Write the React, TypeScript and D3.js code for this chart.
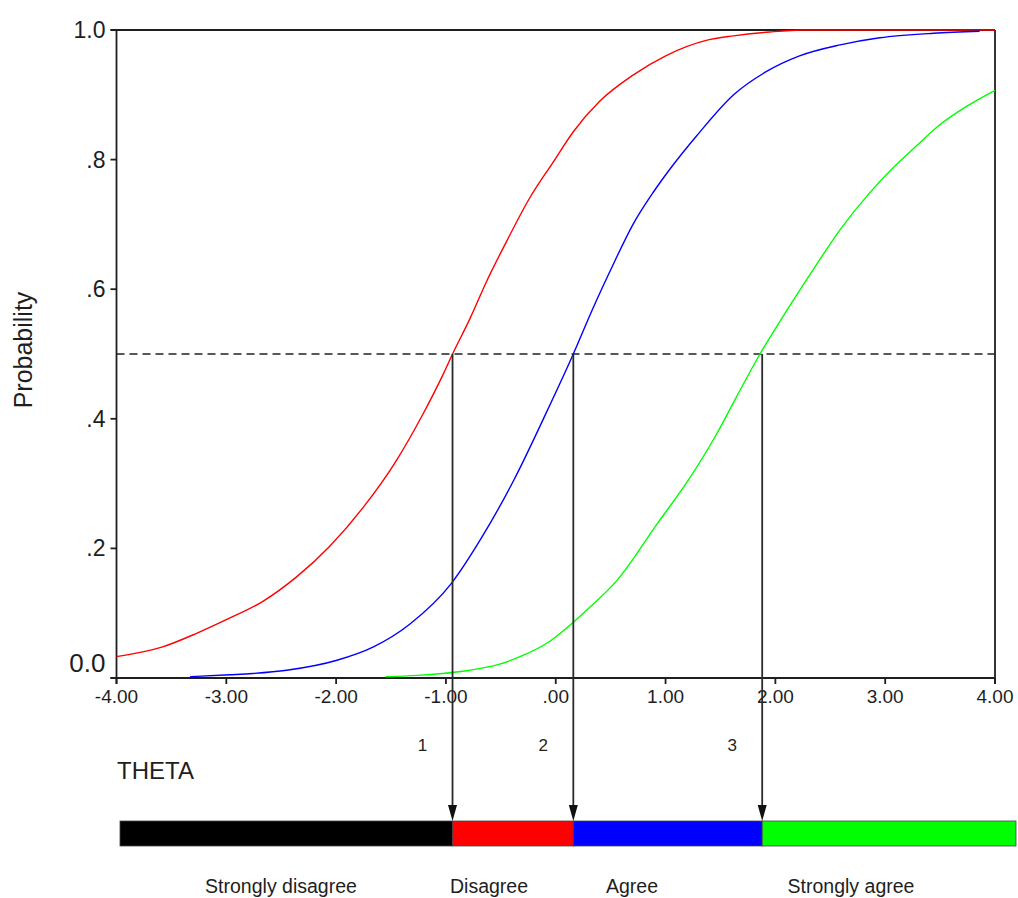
import React from 'react';
import * as d3 from 'd3';

// ---- data ----
const xTicks = [-4, -3, -2, -1, 0, 1, 2, 3, 4];
const xTickLabels = ['-4.00', '-3.00', '-2.00', '-1.00', '.00', '1.00', '2.00', '3.00', '4.00'];
const yTicks = [0, 0.2, 0.4, 0.6, 0.8, 1.0];
const yTickLabels = ['0.0', '.2', '.4', '.6', '.8', '1.0'];

const redTheta = [-4.0, -3.58, -3.27, -3.0, -2.67, -2.36, -2.06, -1.75, -1.45, -1.21, -1.03, -0.94, -0.78, -0.63, -0.45, -0.24, -0.02, 0.16, 0.4, 0.7, 1.01, 1.37, 1.62, 1.95, 2.25, 4.0];
const redProb = [0.033, 0.048, 0.069, 0.09, 0.118, 0.156, 0.203, 0.264, 0.336, 0.407, 0.467, 0.5, 0.555, 0.612, 0.673, 0.74, 0.797, 0.843, 0.89, 0.93, 0.961, 0.984, 0.991, 0.997, 1.0, 1.0];

const blueTheta = [-3.33, -2.97, -2.76, -2.45, -2.0, -1.66, -1.33, -0.95, -0.67, -0.38, -0.09, 0.16, 0.34, 0.52, 0.7, 0.89, 1.07, 1.28, 1.62, 1.92, 2.22, 2.59, 2.95, 3.44, 3.86];
const blueProb = [0.002, 0.005, 0.007, 0.012, 0.027, 0.048, 0.083, 0.146, 0.218, 0.306, 0.408, 0.5, 0.571, 0.637, 0.699, 0.75, 0.792, 0.836, 0.9, 0.936, 0.96, 0.977, 0.988, 0.995, 0.998];

const greenTheta = [-1.55, -1.26, -1.03, -0.78, -0.52, -0.31, -0.06, 0.16, 0.27, 0.56, 0.92, 1.21, 1.46, 1.64, 1.86, 2.1, 2.34, 2.59, 2.86, 3.07, 3.29, 3.47, 3.74, 4.0];
const greenProb = [0.002, 0.004, 0.007, 0.012, 0.021, 0.034, 0.056, 0.086, 0.103, 0.151, 0.237, 0.306, 0.375, 0.432, 0.5, 0.566, 0.629, 0.692, 0.749, 0.787, 0.822, 0.85, 0.882, 0.907];

const curveColors = ['#ff0000', '#0000ff', '#00ff00'];

const thresholds = [-0.94, 0.16, 1.88];
const thresholdLabels = ['1', '2', '3'];
const cutProb = 0.5;

const categories = ['Strongly disagree', 'Disagree', 'Agree', 'Strongly agree'];
const categoryColors = ['#000000', '#ff0000', '#0000ff', '#00ff00'];

// ---- layout ----
const W = 1018;
const H = 898;
const plotLeft = 116.5;
const plotRight = 995;
const plotTop = 30;
const plotBottom = 678;
const barLeft = 120;
const barRight = 1016;
const barTop = 821;
const barBottom = 846;
const categoryLabelX = [281, 489, 632, 851];
const axisColor = '#1e1e1e';
const textColor = '#1e1e1e';

export default function App() {
  const x = d3.scaleLinear().domain([-4, 4]).range([plotLeft, plotRight]);
  const y = d3.scaleLinear().domain([0, 1]).range([plotBottom, plotTop]);

  const line = d3
    .line<[number, number]>()
    .x((d) => x(d[0]))
    .y((d) => y(d[1]))
    .curve(d3.curveMonotoneX);

  const series: [number, number][][] = [
    redTheta.map((t, i) => [t, redProb[i]] as [number, number]),
    blueTheta.map((t, i) => [t, blueProb[i]] as [number, number]),
    greenTheta.map((t, i) => [t, greenProb[i]] as [number, number]),
  ];

  const bounds = [barLeft, ...thresholds.map((t) => x(t)), barRight];
  const yCut = y(cutProb);

  return (
    <svg
      width={W}
      height={H}
      style={{ position: 'absolute', left: 0, top: 0, background: '#fff' }}
      fontFamily="'Liberation Sans', Arial, sans-serif"
    >
      <rect x={0} y={0} width={W} height={H} fill="#fff" />

      {/* frame */}
      <line x1={plotLeft - 6} x2={plotRight} y1={plotTop} y2={plotTop} stroke={axisColor} strokeWidth={1.8} />
      <line x1={plotRight} x2={plotRight} y1={plotTop} y2={plotBottom + 6} stroke={axisColor} strokeWidth={1.8} />
      <line x1={plotLeft} x2={plotLeft} y1={plotTop} y2={plotBottom + 6} stroke={axisColor} strokeWidth={1.8} />
      <line x1={plotLeft - 6} x2={plotRight} y1={plotBottom} y2={plotBottom} stroke={axisColor} strokeWidth={1.8} />

      {/* y ticks */}
      {yTicks.map((v, i) => (
        <g key={'y' + i}>
          <line x1={plotLeft - 6} x2={plotLeft} y1={y(v)} y2={y(v)} stroke={axisColor} strokeWidth={1.8} />
          <text
            x={plotLeft - 11}
            y={v === 0 ? y(v) - 6 : y(v) + 8}
            textAnchor="end"
            fontSize={v === 0 ? 26 : 23}
            fill={textColor}
          >
            {yTickLabels[i]}
          </text>
        </g>
      ))}

      {/* x ticks */}
      {xTicks.map((v, i) => (
        <g key={'x' + i}>
          <line x1={x(v)} x2={x(v)} y1={plotBottom} y2={plotBottom + 6} stroke={axisColor} strokeWidth={1.8} />
          <text x={x(v)} y={703} textAnchor="middle" fontSize={19} fill={textColor}>
            {xTickLabels[i]}
          </text>
        </g>
      ))}

      {/* axis titles */}
      <text
        transform={`translate(32,350) rotate(-90)`}
        textAnchor="middle"
        fontSize={25}
        fill={textColor}
      >
        Probability
      </text>
      <text x={117} y={779} fontSize={24} fill={textColor}>
        THETA
      </text>

      {/* dashed 0.5 line */}
      <line
        x1={plotLeft}
        x2={plotRight}
        y1={yCut}
        y2={yCut}
        stroke="#222"
        strokeWidth={1.6}
        strokeDasharray="8,5"
      />

      {/* curves */}
      {series.map((s, i) => (
        <path key={'c' + i} d={line(s) || ''} fill="none" stroke={curveColors[i]} strokeWidth={1.4} />
      ))}

      {/* threshold arrows */}
      {thresholds.map((t, i) => {
        const tx = x(t);
        return (
          <g key={'a' + i}>
            <line x1={tx} x2={tx} y1={yCut} y2={barTop - 14} stroke="#2a2a2a" strokeWidth={1.8} />
            <path
              d={`M${tx - 4.5},${barTop - 16} L${tx + 4.5},${barTop - 16} L${tx},${barTop} Z`}
              fill="#111"
            />
            <text x={tx - 30} y={751} textAnchor="middle" fontSize={17} fill={textColor}>
              {thresholdLabels[i]}
            </text>
          </g>
        );
      })}

      {/* category bar */}
      {categories.map((c, i) => (
        <rect
          key={'b' + i}
          x={bounds[i]}
          y={barTop}
          width={bounds[i + 1] - bounds[i]}
          height={barBottom - barTop}
          fill={categoryColors[i]}
          stroke="#444"
          strokeWidth={0.8}
        />
      ))}
      {categories.map((c, i) => (
        <text key={'l' + i} x={categoryLabelX[i]} y={893} textAnchor="middle" fontSize={19.5} fill={textColor}>
          {c}
        </text>
      ))}
    </svg>
  );
}
